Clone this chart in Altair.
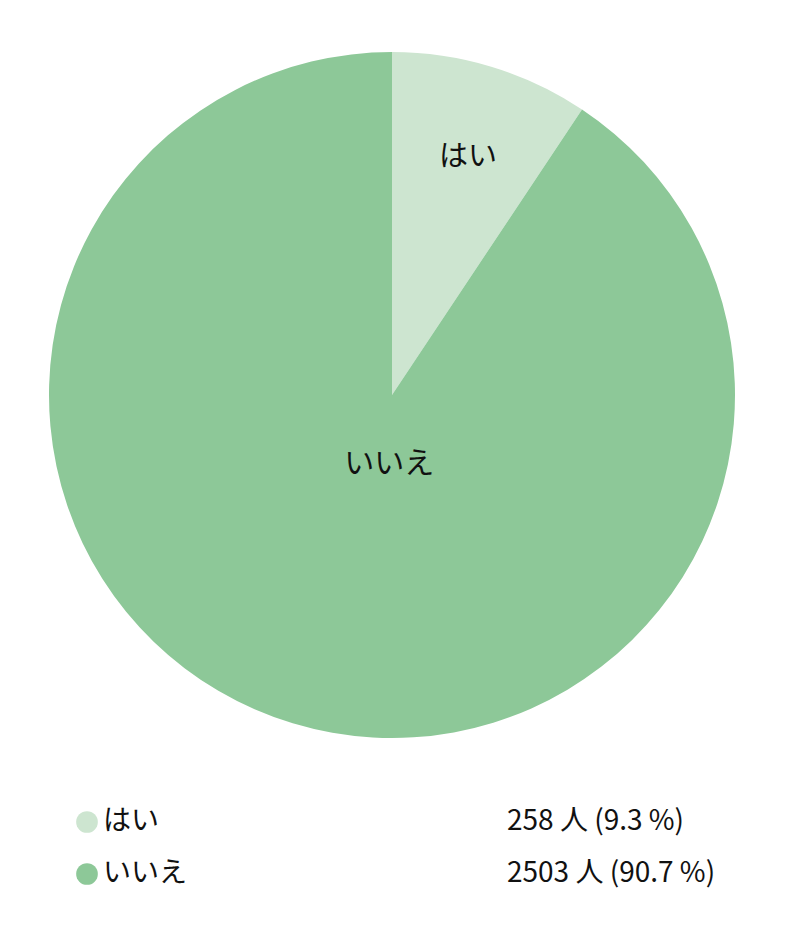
import altair as alt
import pandas as pd

categories = ["はい", "いいえ"]
counts = [258, 2503]
colors = ["#cde5d0", "#8dc898"]

total = sum(counts)
df = pd.DataFrame({
    "cat": categories,
    "count": counts,
    "order": list(range(len(categories))),
})
df["info"] = [f"{c} 人 ({c / total * 100:.1f} %)" for c in counts]

FONT = "Noto Sans CJK JP"
color = alt.Color("cat:N", scale=alt.Scale(domain=categories, range=colors), legend=None)

base = alt.Chart(df).encode(
    theta=alt.Theta("count:Q", stack=True),
    order=alt.Order("order:Q"),
)

arc = base.mark_arc(outerRadius=343).encode(color=color)

lab_yes = base.mark_text(radius=249, fontSize=29, font=FONT, color="#111111", dx=4).encode(
    text=alt.condition(alt.datum.cat == "はい", alt.Text("cat:N"), alt.value(""))
)
lab_no = base.mark_text(radius=72, fontSize=30, font=FONT, color="#111111", dx=18).encode(
    text=alt.condition(alt.datum.cat == "いいえ", alt.Text("cat:N"), alt.value(""))
)

pie = alt.layer(arc, lab_yes, lab_no).properties(width=768, height=774)

ybase = alt.Chart(df).encode(
    y=alt.Y("cat:N", sort=categories, axis=None, scale=alt.Scale(type="point", padding=0.5))
)
dots = ybase.mark_point(filled=True, opacity=1, size=470, shape="circle").encode(
    x=alt.value(79), color=color
)
names = ybase.mark_text(align="left", baseline="middle", fontSize=28, font=FONT, color="#111111").encode(
    x=alt.value(95), text="cat:N"
)
infos = ybase.mark_text(align="left", baseline="middle", fontSize=28, font=FONT, color="#111111").encode(
    x=alt.value(499), text="info:N"
)
legend = alt.layer(dots, names, infos).properties(width=768, height=104)

chart = alt.vconcat(pie, legend, spacing=14).properties(padding=0).configure_view(stroke=None)

chart.save("out.html", embed_options={"renderer": "svg", "actions": False})
